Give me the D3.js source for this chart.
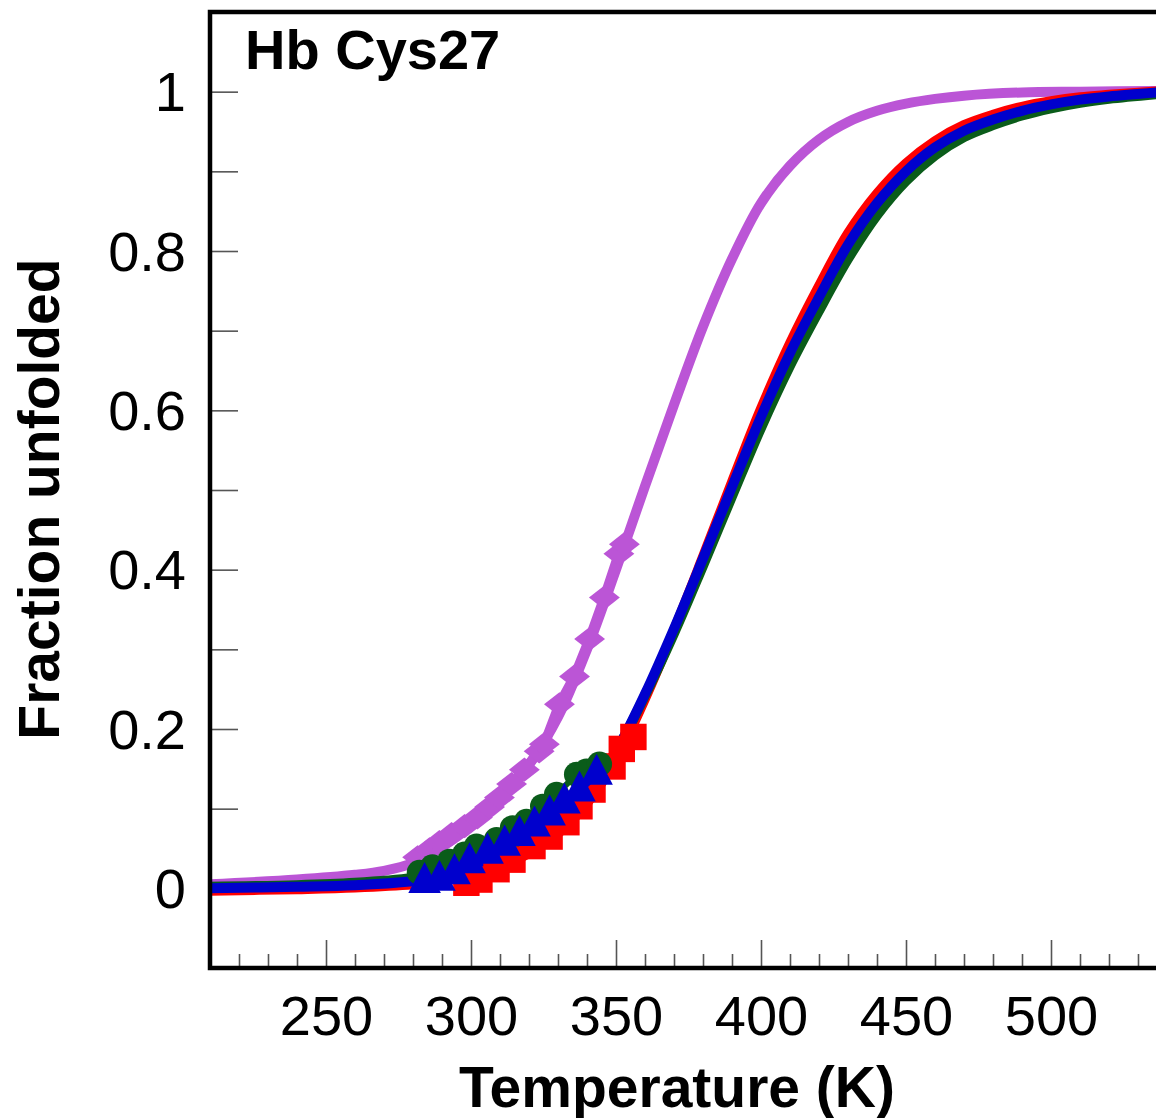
<!DOCTYPE html>
<html>
<head>
<meta charset="utf-8">
<script src="https://cdn.jsdelivr.net/npm/d3@7/dist/d3.min.js"></script>
<style>
  html, body { margin: 0; padding: 0; background: #fff; }
  svg { display: block; }
  text { font-family: "Liberation Sans", Arial, sans-serif; fill: #000; }
</style>
</head>
<body>
<svg id="chart" width="1156" height="1118"></svg>
<script>
// ---------- data ----------
const title = "Hb Cys27";
const xTitle = "Temperature (K)";
const yTitle = "Fraction unfolded";
const xMajorTicks = [250, 300, 350, 400, 450, 500];
const yLabelTicks = [0, 0.2, 0.4, 0.6, 0.8, 1];

// fitted curves (temperature, fraction)
const fitT = [210, 240, 260, 280, 290, 300, 310, 320, 330, 340, 350, 360, 370, 380, 390, 400, 410, 420, 430, 440, 450, 460, 470, 480, 490, 500, 510, 520, 540];
const redFit   = [-0.003, -0.001, 0.001, 0.005, 0.009, 0.016, 0.027, 0.044, 0.069, 0.107, 0.162, 0.238, 0.324, 0.416, 0.510, 0.602, 0.684, 0.756, 0.822, 0.872, 0.910, 0.938, 0.958, 0.971, 0.981, 0.988, 0.993, 0.996, 1.001];
const greenFit = [0.002, 0.004, 0.007, 0.013, 0.019, 0.027, 0.039, 0.057, 0.083, 0.120, 0.172, 0.242, 0.320, 0.405, 0.492, 0.578, 0.656, 0.725, 0.790, 0.845, 0.888, 0.920, 0.943, 0.958, 0.970, 0.979, 0.986, 0.991, 0.998];
const blueFit  = [0.000, 0.002, 0.004, 0.009, 0.014, 0.022, 0.034, 0.052, 0.078, 0.118, 0.172, 0.244, 0.326, 0.414, 0.504, 0.592, 0.672, 0.742, 0.808, 0.860, 0.900, 0.930, 0.951, 0.965, 0.976, 0.984, 0.990, 0.994, 1.000];

const purpleFitT = [210, 240, 260, 270, 280, 290, 300, 310, 320, 330, 340, 350, 360, 370, 380, 390, 400, 410, 420, 430, 440, 450, 460, 470, 490, 510, 540];
const purpleFit  = [0.005, 0.011, 0.017, 0.022, 0.032, 0.052, 0.078, 0.110, 0.155, 0.215, 0.300, 0.400, 0.505, 0.607, 0.705, 0.790, 0.860, 0.907, 0.940, 0.962, 0.976, 0.985, 0.991, 0.995, 0.999, 1.000, 1.001];

// measured points
const purpleT = [281.6, 285.7, 289.1, 293.3, 297.8, 302.2, 306.4, 309.8, 314.0, 318.4, 323.5, 325.3, 330.5, 335.7, 340.9, 346.0, 351.0, 352.9];
const purpleF = [0.039, 0.049, 0.058, 0.068, 0.078, 0.089, 0.102, 0.114, 0.131, 0.149, 0.172, 0.181, 0.231, 0.266, 0.313, 0.365, 0.420, 0.432];

const redT = [298.4, 302.9, 308.8, 314.3, 321.2, 327.1, 332.9, 337.4, 341.9, 348.8, 352.0, 356.0];
const redF = [0.007, 0.011, 0.024, 0.036, 0.053, 0.065, 0.083, 0.103, 0.124, 0.153, 0.175, 0.190];

const greenT = [282.2, 286.7, 292.6, 297.8, 301.9, 308.8, 314.3, 319.1, 324.7, 329.5, 336.4, 339.8, 344.3];
const greenF = [0.020, 0.027, 0.034, 0.043, 0.053, 0.061, 0.076, 0.084, 0.103, 0.118, 0.143, 0.147, 0.156];

const blueT = [284.0, 289.1, 294.3, 299.5, 305.7, 311.6, 316.7, 321.9, 327.1, 332.2, 337.4, 343.3];
const blueF = [0.007, 0.010, 0.018, 0.032, 0.044, 0.054, 0.066, 0.078, 0.092, 0.107, 0.122, 0.143];

// ---------- styles ----------
const colPurple = "#bb55d6", colRed = "#ff0000", colGreen = "#0a5c1a", colBlue = "#0000cd";

const svg = d3.select("#chart");
const x = d3.scaleLinear().domain([210, 540]).range([210, 1167]);
const y = d3.scaleLinear().domain([-0.1, 1.1]).range([968, 12]);

svg.append("defs").append("clipPath").attr("id", "plotclip")
  .append("rect").attr("x", 210).attr("y", 12).attr("width", 957).attr("height", 956);

// axes (ticks inward)
const xMinor = d3.range(220, 541, 10).filter(v => v % 50 !== 0);
const gxMinor = svg.append("g").attr("transform", "translate(0,968)")
  .call(d3.axisBottom(x).tickValues(xMinor).tickSize(-14).tickFormat(""));
const gx = svg.append("g").attr("transform", "translate(0,968)")
  .call(d3.axisBottom(x).tickValues(xMajorTicks).tickSize(-28).tickPadding(27).tickFormat(d3.format("d")));
const yAll = d3.range(-1, 12).map(i => +(i / 10).toFixed(1));
const gy = svg.append("g").attr("transform", "translate(210,0)")
  .call(d3.axisLeft(y).tickValues(yAll).tickSize(-28).tickPadding(24)
    .tickFormat(d => yLabelTicks.some(v => Math.abs(v - d) < 1e-9) ? d3.format("~g")(d) : ""));
[gxMinor, gx, gy].forEach(g => {
  g.select(".domain").remove();
  g.selectAll(".tick line").attr("stroke", "#555").attr("stroke-width", 1.6);
  g.selectAll(".tick text").style("font-size", "56px").style("font-family", '"Liberation Sans", Arial, sans-serif').attr("fill", "#000");
});
gy.selectAll(".tick text").attr("dy", "0.34em");

// curves
const plot = svg.append("g").attr("clip-path", "url(#plotclip)");
const fitLine = d3.line().x(d => x(d[0])).y(d => y(d[1])).curve(d3.curveCatmullRom.alpha(0.5));
const dataLine = d3.line().x(d => x(d[0])).y(d => y(d[1]));
const zip = (a, b) => a.map((v, i) => [v, b[i]]);

plot.append("path").datum(zip(purpleFitT, purpleFit)).attr("d", fitLine)
  .attr("fill", "none").attr("stroke", colPurple).attr("stroke-width", 10);
plot.append("path").datum(zip(purpleT, purpleF)).attr("d", dataLine)
  .attr("fill", "none").attr("stroke", colPurple).attr("stroke-width", 10);

[[redFit, colRed], [greenFit, colGreen], [blueFit, colBlue]].forEach(([f, c]) => {
  plot.append("path").datum(zip(fitT, f)).attr("d", fitLine)
    .attr("fill", "none").attr("stroke", c).attr("stroke-width", 10);
});

// markers
const sym = (type, size) => d3.symbol().type(type).size(size);
plot.append("g").selectAll("path").data(zip(purpleT, purpleF)).join("path")
  .attr("transform", d => `translate(${x(d[0])},${y(d[1])}) scale(1.15,0.9)`)
  .attr("d", sym(d3.symbolDiamond2, 460)()).attr("fill", colPurple);

plot.append("path").datum(zip(redT, redF)).attr("d", dataLine)
  .attr("fill", "none").attr("stroke", colRed).attr("stroke-width", 6);
plot.append("g").selectAll("path").data(zip(redT, redF)).join("path")
  .attr("transform", d => `translate(${x(d[0])},${y(d[1])})`)
  .attr("d", sym(d3.symbolSquare, 700)()).attr("fill", colRed);

plot.append("path").datum(zip(greenT, greenF)).attr("d", dataLine)
  .attr("fill", "none").attr("stroke", colGreen).attr("stroke-width", 6);
plot.append("g").selectAll("path").data(zip(greenT, greenF)).join("path")
  .attr("transform", d => `translate(${x(d[0])},${y(d[1])})`)
  .attr("d", sym(d3.symbolCircle, 500)()).attr("fill", colGreen);

plot.append("path").datum(zip(blueT, blueF)).attr("d", dataLine)
  .attr("fill", "none").attr("stroke", colBlue).attr("stroke-width", 6);
plot.append("g").selectAll("path").data(zip(blueT, blueF)).join("path")
  .attr("transform", d => `translate(${x(d[0])},${y(d[1])}) scale(1,1.1)`)
  .attr("d", sym(d3.symbolTriangle, 460)()).attr("fill", colBlue);

// frame
svg.append("rect").attr("x", 210).attr("y", 12).attr("width", 957).attr("height", 956)
  .attr("fill", "none").attr("stroke", "#000").attr("stroke-width", 4.5);

// texts
svg.append("text").attr("x", 245).attr("y", 69).attr("font-size", 56).attr("font-weight", "bold").text(title);
svg.append("text").attr("x", 677).attr("y", 1107).attr("text-anchor", "middle")
  .attr("font-size", 57).attr("font-weight", "bold").text(xTitle);
svg.append("text").attr("transform", "translate(59,499) rotate(-90)").attr("text-anchor", "middle")
  .attr("font-size", 57).attr("font-weight", "bold").text(yTitle);
</script>
</body>
</html>
